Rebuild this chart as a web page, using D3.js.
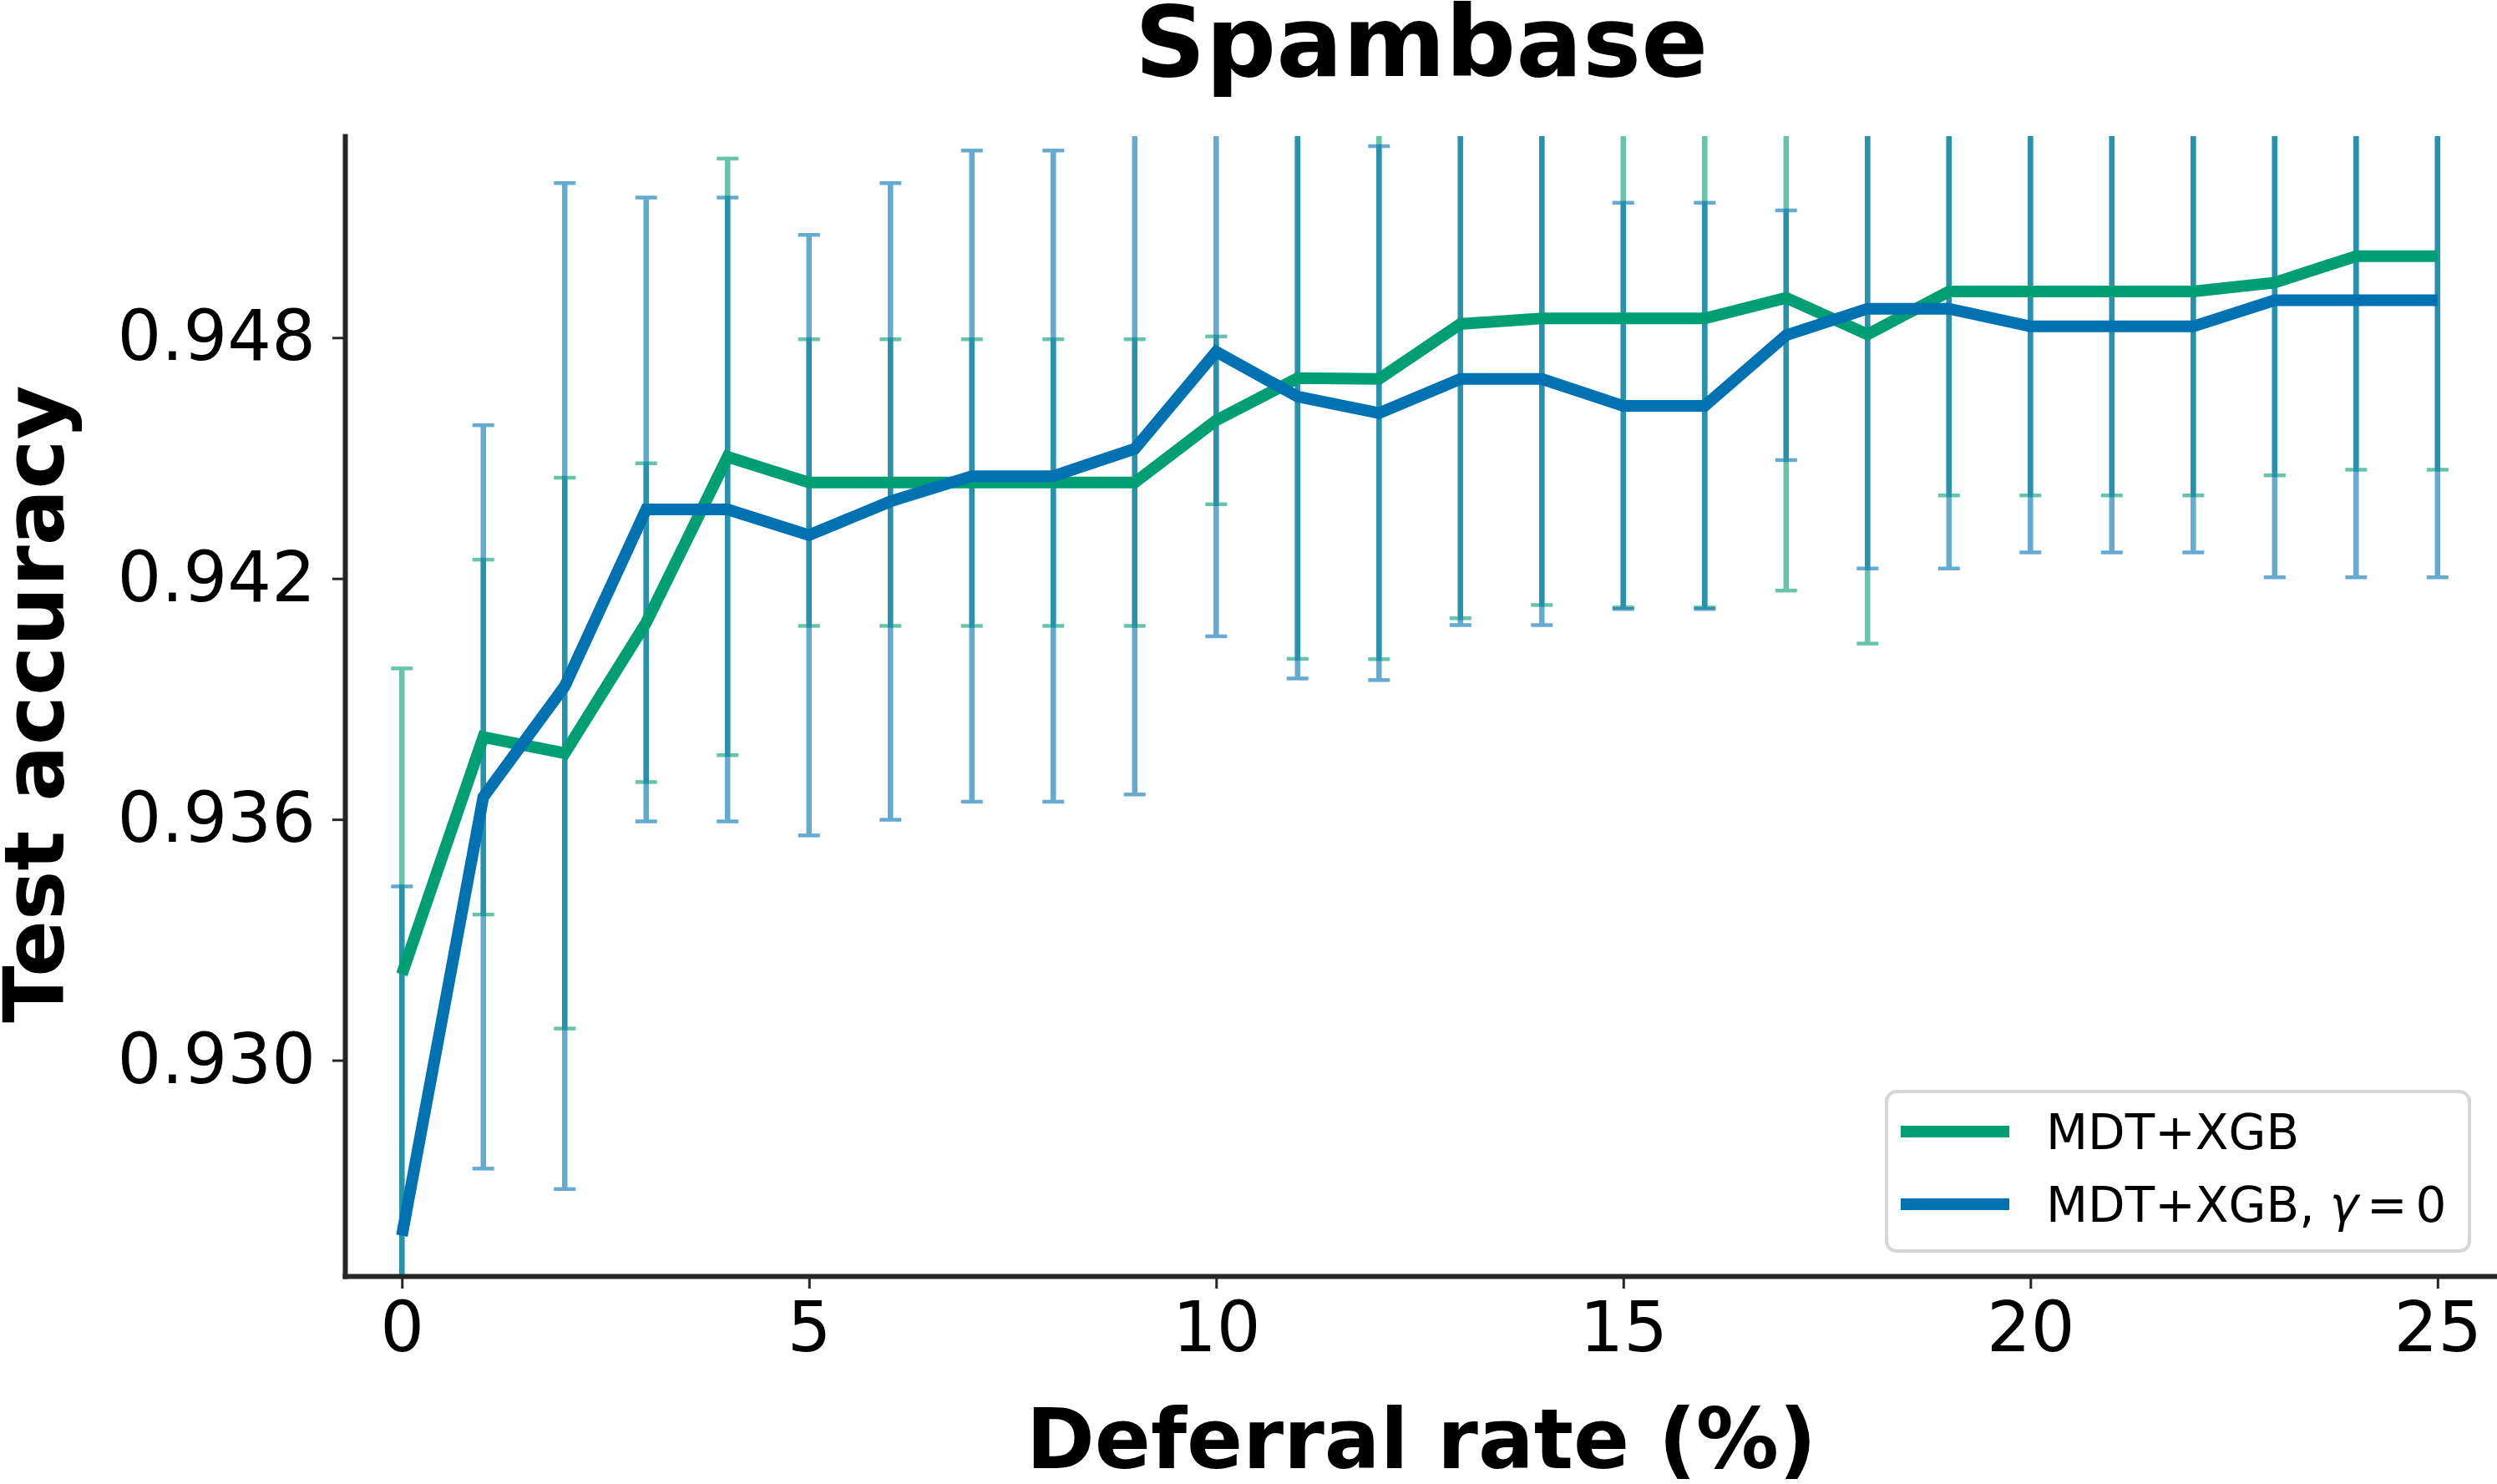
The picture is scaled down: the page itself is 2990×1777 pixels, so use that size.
<!DOCTYPE html>
<html lang="en">
<head>
<meta charset="UTF-8">
<title>Spambase</title>
<script src="https://cdn.jsdelivr.net/npm/d3@7"></script>
<style>
  body { margin: 0; background: #fff; }
  text { font-family: "DejaVu Sans", sans-serif; fill: #000; }
</style>
</head>
<body>
<div id="chart"></div>
<script>

// deferral rate (%) on the x axis
var deferral = [0, 1, 2, 3, 4, 5, 6, 7, 8, 9, 10, 11, 12, 13, 14, 15, 16, 17, 18, 19, 20, 21, 22, 23, 24, 25];

// MDT+XGB : mean test accuracy and its std
var mdtMean = [0.93214, 0.93805, 0.93765, 0.94090, 0.94503, 0.94439, 0.94439, 0.94439, 0.94439, 0.94439,
               0.94594, 0.94699, 0.94697, 0.94834, 0.94848, 0.94848, 0.94848, 0.94899, 0.94808, 0.94915,
               0.94915, 0.94915, 0.94915, 0.94937, 0.95003, 0.95003];
var mdtStd = [0.00762, 0.00442, 0.00686, 0.00397, 0.00743, 0.00357, 0.00357, 0.00357, 0.00357, 0.00357,
              0.00209, 0.00699, 0.00698, 0.00733, 0.00714, 0.00720, 0.00720, 0.00729, 0.00770, 0.00508,
              0.00508, 0.00508, 0.00508, 0.00480, 0.00532, 0.00532];

// MDT+XGB, gamma = 0
var gammaMean = [0.92563, 0.93656, 0.93932, 0.94372, 0.94372, 0.94308, 0.94392, 0.94455, 0.94455, 0.94523,
                 0.94765, 0.94653, 0.94612, 0.94697, 0.94697, 0.94630, 0.94630, 0.94806, 0.94872, 0.94872,
                 0.94828, 0.94828, 0.94828, 0.94893, 0.94893, 0.94893];
var gammaStd = [0.00870, 0.00926, 0.01253, 0.00777, 0.00777, 0.00748, 0.00793, 0.00811, 0.00811, 0.00861,
                0.00709, 0.00702, 0.00665, 0.00613, 0.00613, 0.00506, 0.00506, 0.00311, 0.00647, 0.00647,
                0.00563, 0.00563, 0.00563, 0.00690, 0.00690, 0.00690];

var xTicks = [0, 5, 10, 15, 20, 25];
var yTicks = [0.930, 0.936, 0.942, 0.948];
var seriesNames = ["MDT+XGB", "MDT+XGB, γ = 0"];
var seriesColors = ["#009E73", "#0072B2"];

var W = 2990, H = 1777;
var plotLeft = 413, plotRight = 2990, plotTop = 163, plotBottom = 1528;
var spineColor = "#262626";

var svg = d3.select("#chart")
  .append("svg")
    .attr("width", W)
    .attr("height", H);

var x = d3.scaleLinear().domain([-0.7, 25.73]).range([plotLeft, plotRight]);
var y = d3.scaleLinear().domain([0.924624, 0.95302]).range([plotBottom, plotTop]);

svg.append("clipPath").attr("id", "plotclip")
  .append("rect")
    .attr("x", plotLeft).attr("y", plotTop)
    .attr("width", plotRight - plotLeft).attr("height", plotBottom - plotTop);

var plot = svg.append("g").attr("clip-path", "url(#plotclip)");

var series = [
  {name: seriesNames[0], color: seriesColors[0], mean: mdtMean, std: mdtStd},
  {name: seriesNames[1], color: seriesColors[1], mean: gammaMean, std: gammaStd}
];

// error bars first (under every line), with alpha like matplotlib
series.forEach(function(s) {
  var g = plot.append("g").attr("opacity", 0.6);
  var pts = deferral.map(function(d, i) { return {x: d, m: s.mean[i], e: s.std[i]}; });
  g.selectAll(null).data(pts).enter().append("line")
    .attr("x1", function(d) { return x(d.x); })
    .attr("x2", function(d) { return x(d.x); })
    .attr("y1", function(d) { return y(d.m - d.e); })
    .attr("y2", function(d) { return y(d.m + d.e); })
    .attr("stroke", s.color)
    .attr("stroke-width", 6.5);
  [-1, 1].forEach(function(sign) {
    g.selectAll(null).data(pts).enter().append("line")
      .attr("x1", function(d) { return x(d.x) - 13; })
      .attr("x2", function(d) { return x(d.x) + 13; })
      .attr("y1", function(d) { return y(d.m + sign * d.e); })
      .attr("y2", function(d) { return y(d.m + sign * d.e); })
      .attr("stroke", s.color)
      .attr("stroke-width", 4.5);
  });
});

// mean lines
var line = d3.line()
  .x(function(d) { return x(d[0]); })
  .y(function(d) { return y(d[1]); });

series.forEach(function(s) {
  plot.append("path")
    .datum(d3.zip(deferral, s.mean))
    .attr("d", line)
    .attr("fill", "none")
    .attr("stroke", s.color)
    .attr("stroke-width", 14)
    .attr("stroke-linejoin", "miter");
});

// axes
var xAxis = svg.append("g")
  .attr("transform", "translate(0," + plotBottom + ")")
  .call(d3.axisBottom(x).tickValues(xTicks).tickSize(15).tickPadding(16).tickSizeOuter(0));
var yAxis = svg.append("g")
  .attr("transform", "translate(" + plotLeft + ",0)")
  .call(d3.axisLeft(y).tickValues(yTicks).tickFormat(d3.format(".3f")).tickSize(15).tickPadding(20).tickSizeOuter(0));

[xAxis, yAxis].forEach(function(a) {
  a.attr("font-family", "DejaVu Sans").attr("font-size", 83);
  a.select(".domain").attr("stroke", spineColor).attr("stroke-width", 6).attr("stroke-linecap", "square");
  a.selectAll(".tick line").attr("stroke", spineColor).attr("stroke-width", 3);
  a.selectAll(".tick text").attr("fill", "#000");
});

// titles
svg.append("text")
  .attr("x", 1702).attr("y", 91)
  .attr("text-anchor", "middle")
  .attr("font-size", 118).attr("font-weight", "bold")
  .text("Spambase");

svg.append("text")
  .attr("x", 1702).attr("y", 1758)
  .attr("text-anchor", "middle")
  .attr("font-size", 99).attr("font-weight", "bold")
  .text("Deferral rate (%)");

svg.append("text")
  .attr("transform", "translate(76,843) rotate(-90)")
  .attr("text-anchor", "middle")
  .attr("font-size", 100).attr("font-weight", "bold")
  .text("Test accuracy");

// legend
var legend = svg.append("g");
legend.append("rect")
  .attr("x", 2259).attr("y", 1307)
  .attr("width", 698).attr("height", 191)
  .attr("rx", 12)
  .attr("fill", "#fff").attr("fill-opacity", 0.8)
  .attr("stroke", "#d6d6d6").attr("stroke-width", 4);

series.forEach(function(s, i) {
  var cy = 1355 + i * 87;
  legend.append("line")
    .attr("x1", 2276).attr("x2", 2406)
    .attr("y1", cy).attr("y2", cy)
    .attr("stroke", s.color).attr("stroke-width", 14);
  var t = legend.append("text")
    .attr("x", 2450).attr("y", cy + 21)
    .attr("font-size", 58);
  if (i === 0) {
    t.text(s.name);
  } else {
    var parts = s.name.split("γ");
    t.append("tspan").text(parts[0].replace(/ $/, ""));
    t.append("tspan").attr("dx", 18).attr("font-style", "italic").text("γ");
    t.append("tspan").attr("dx", 10).text("=");
    t.append("tspan").attr("dx", 10).text("0");
  }
});

</script>
</body>
</html>
